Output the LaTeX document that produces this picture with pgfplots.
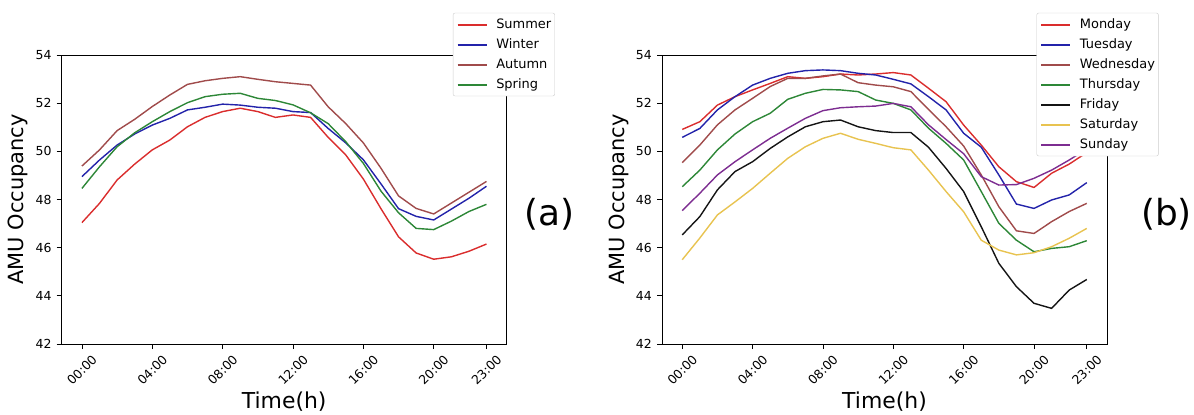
\documentclass[border=0pt]{standalone}
\usepackage{pgfplots}
\usepackage{pgfplotstable}
\pgfplotsset{compat=1.18}
\usepackage{fontspec}
\setmainfont{DejaVu Sans}

\definecolor{cRed}{RGB}{218,45,45}
\definecolor{cBlue}{RGB}{35,35,170}
\definecolor{cBrown}{RGB}{160,75,75}
\definecolor{cGreen}{RGB}{45,135,55}
\definecolor{cBlack}{RGB}{20,20,20}
\definecolor{cGold}{RGB}{232,195,80}
\definecolor{cPurple}{RGB}{125,45,145}

\pgfplotstableread{
h Summer Winter Autumn Spring
0 47.04 48.95 49.39 48.46
1 47.84 49.64 50.06 49.36
2 48.81 50.26 50.86 50.19
3 49.47 50.72 51.33 50.77
4 50.06 51.09 51.86 51.23
5 50.47 51.37 52.34 51.65
6 51.02 51.72 52.78 52.02
7 51.41 51.83 52.93 52.27
8 51.65 51.96 53.03 52.37
9 51.79 51.92 53.10 52.41
10 51.65 51.83 52.99 52.20
11 51.41 51.79 52.89 52.11
12 51.51 51.65 52.82 51.93
13 51.41 51.61 52.75 51.60
14 50.58 50.95 51.85 51.15
15 49.85 50.35 51.15 50.40
16 48.85 49.65 50.35 49.50
17 47.62 48.65 49.30 48.35
18 46.45 47.62 48.15 47.45
19 45.78 47.30 47.63 46.80
20 45.52 47.15 47.40 46.75
21 45.62 47.60 47.85 47.10
22 45.85 48.05 48.30 47.50
23 46.15 48.55 48.75 47.80
}\datA

\pgfplotstableread{
h Mon Tue Wed Thu Fri Sat Sun
0 50.91 50.58 49.53 48.53 46.53 45.50 47.54
1 51.23 50.95 50.26 49.22 47.29 46.40 48.26
2 51.92 51.72 51.10 50.06 48.40 47.36 49.02
3 52.27 52.27 51.72 50.72 49.16 47.90 49.57
4 52.55 52.75 52.20 51.23 49.57 48.46 50.06
5 52.82 53.03 52.69 51.58 50.12 49.09 50.54
6 53.10 53.24 53.03 52.16 50.60 49.71 50.96
7 53.03 53.35 53.03 52.41 51.02 50.19 51.37
8 53.10 53.38 53.13 52.57 51.23 50.54 51.69
9 53.21 53.35 53.21 52.55 51.30 50.75 51.81
10 53.17 53.24 52.85 52.48 51.02 50.50 51.85
11 53.21 53.17 52.75 52.13 50.86 50.33 51.88
12 53.27 52.99 52.68 51.99 50.78 50.15 51.99
13 53.17 52.80 52.48 51.72 50.78 50.06 51.85
14 52.62 52.27 51.74 50.96 50.17 49.22 51.10
15 52.06 51.72 51.02 50.33 49.29 48.33 50.49
16 51.09 50.75 50.22 49.64 48.33 47.49 49.90
17 50.26 50.17 49.02 48.33 46.87 46.31 48.95
18 49.36 49.02 47.70 47.01 45.35 45.90 48.60
19 48.74 47.81 46.70 46.31 44.38 45.70 48.62
20 48.50 47.63 46.59 45.83 43.69 45.79 48.88
21 49.09 47.98 47.08 45.97 43.48 46.04 49.22
22 49.47 48.19 47.50 46.04 44.24 46.39 49.64
23 49.95 48.70 47.84 46.29 44.68 46.80 50.10
}\datB

\pgfplotsset{
  myax/.style={
    anchor=south west, scale only axis,
    width=445bp, height=289bp,
    xmin=-1.15, xmax=24.15, ymin=42, ymax=54,
    xtick={0,4,8,12,16,20,23},
    xticklabels={00:00,04:00,08:00,12:00,16:00,20:00,23:00},
    ytick={42,44,46,48,50,52,54},
    tick align=outside, major tick length=5bp,
    tick style={black, line width=0.8bp},
    axis line style={black, line width=0.9bp},
    xtick pos=bottom, ytick pos=left,
    /pgf/number format/assume math mode=true,
    ticklabel style={font=\fontsize{12.5}{15}\selectfont},
    xticklabel style={yshift=-21bp, rotate=45, anchor=center, inner sep=0pt},
    yticklabel style={anchor=east, inner sep=0pt, xshift=-5bp},
    every axis x label/.style={at={(axis description cs:0.5,-0.2215)}, anchor=base, font=\fontsize{22}{26}\selectfont},
    every axis y label/.style={at={(axis description cs:-0.085,0.5)}, rotate=90, anchor=base, font=\fontsize{21}{25}\selectfont},
    xlabel={Time(h)}, ylabel={AMU Occupancy},
    legend cell align=left,
    legend image code/.code={\draw[##1, line width=2bp] (0bp,0bp) -- (29bp,0bp); \path (38bp,0bp);},
    legend style={anchor=north west, draw=black!20, rounded corners=2bp, fill=white,
      inner xsep=3.5bp, inner ysep=5.5bp, font=\fontsize{13}{15}\selectfont,
      row sep=8bp, nodes={inner sep=0pt, text height=9.5bp, text depth=2.5bp}},
    every axis plot/.append style={line width=1.4bp},
  }
}

\begin{document}
\begin{tikzpicture}[x=1bp,y=1bp]
\path[use as bounding box] (0,0) rectangle (1194,414);
\begin{axis}[myax, at={(61.7bp,70bp)}, legend style={at={(0.879,1.146)}}]
\addplot[cRed] table[x=h,y=Summer]{\datA};
\addplot[cBlue] table[x=h,y=Winter]{\datA};
\addplot[cBrown] table[x=h,y=Autumn]{\datA};
\addplot[cGreen] table[x=h,y=Spring]{\datA};
\legend{Summer,Winter,Autumn,Spring}
\end{axis}
\begin{axis}[myax, at={(662bp,70bp)}, legend style={at={(0.8416,1.146)}}]
\addplot[cRed] table[x=h,y=Mon]{\datB};
\addplot[cBlue] table[x=h,y=Tue]{\datB};
\addplot[cBrown] table[x=h,y=Wed]{\datB};
\addplot[cGreen] table[x=h,y=Thu]{\datB};
\addplot[cBlack] table[x=h,y=Fri]{\datB};
\addplot[cGold] table[x=h,y=Sat]{\datB};
\addplot[cPurple] table[x=h,y=Sun]{\datB};
\legend{Monday,Tuesday,Wednesday,Thursday,Friday,Saturday,Sunday}
\end{axis}
\node[font=\fontsize{36}{40}\selectfont, inner sep=0pt] at (549.4,200) {(a)};
\node[font=\fontsize{36}{40}\selectfont, inner sep=0pt] at (1166.5,200) {(b)};
\end{tikzpicture}
\end{document}
